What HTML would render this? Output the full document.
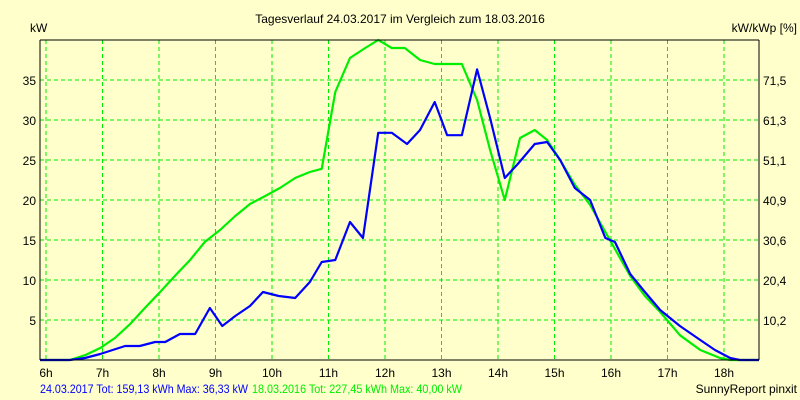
<!DOCTYPE html>
<html><head><meta charset="utf-8"><style>
body{margin:0;background:#ffffcc;}
svg{display:block;font-family:"Liberation Sans",Arial,sans-serif;font-size:12px;}
</style></head><body>
<svg id="chart" width="800" height="400" viewBox="0 0 800 400">
<rect width="800" height="400" fill="#ffffcc"/>
<text x="400" y="23" text-anchor="middle" fill="#000">Tagesverlauf 24.03.2017 im Vergleich zum 18.03.2016</text>
<text x="30" y="32" fill="#000">kW</text>
<text x="797" y="32" text-anchor="end" fill="#000">kW/kWp [%]</text>
<g id="grid"></g>
<g id="series"></g>
<line x1="40" y1="40" x2="40" y2="360" stroke="#000"/>
<line x1="759" y1="40" x2="759" y2="360" stroke="#000"/>
<line x1="40" y1="40" x2="759" y2="40" stroke="#000"/>
<line x1="40" y1="360" x2="759" y2="360" stroke="#000"/>
<g id="labels"></g>
<text x="40" y="393" fill="#0000ff" textLength="208" lengthAdjust="spacingAndGlyphs">24.03.2017 Tot: 159,13 kWh Max: 36,33 kW</text>
<text x="252" y="393" fill="#00ee00" textLength="210" lengthAdjust="spacingAndGlyphs">18.03.2016 Tot: 227,45 kWh Max: 40,00 kW</text>
<text x="797" y="393" text-anchor="end" fill="#000">SunnyReport pinxit</text>
</svg>
<script>
const xTicks=[6,7,8,9,10,11,12,13,14,15,16,17,18];
const yTicks=[5,10,15,20,25,30,35];
const rightTickLabels=["10,2","20,4","30,6","40,9","51,1","61,3","71,5"];
const blueHours=[5.89,6.42,6.69,6.96,7.40,7.66,7.93,8.11,8.37,8.64,8.90,9.12,9.35,9.61,9.84,10.12,10.41,10.67,10.88,11.12,11.38,11.61,11.88,12.12,12.39,12.62,12.88,13.10,13.36,13.63,13.86,14.12,14.35,14.65,14.87,15.10,15.36,15.63,15.90,16.07,16.34,16.60,16.87,17.22,17.58,17.84,18.11,18.28,18.62];
const blueKW=[0,0,0.25,0.75,1.75,1.75,2.25,2.25,3.25,3.25,6.5,4.25,5.5,6.75,8.5,8,7.75,9.75,12.25,12.5,17.25,15.25,28.4,28.4,27,28.75,32.25,28.1,28.1,36.33,30.25,22.75,24.5,27,27.25,25,21.5,20,15.25,14.75,10.75,8.5,6.25,4.25,2.5,1.25,0.25,0,0];
const greenHours=[5.89,6.42,6.69,6.96,7.22,7.49,7.75,8.02,8.28,8.55,8.81,9.08,9.35,9.61,9.88,10.14,10.41,10.67,10.88,11.12,11.38,11.65,11.88,12.12,12.35,12.62,12.88,13.36,13.63,13.86,14.12,14.39,14.65,14.87,15.10,15.36,15.63,15.90,16.34,16.60,16.87,17.22,17.58,17.93,18.11,18.62];
const greenKW=[0,0,0.6,1.5,2.75,4.5,6.5,8.5,10.5,12.5,14.75,16.25,18,19.5,20.5,21.5,22.75,23.5,23.9,33.5,37.75,39,40,39,39,37.5,37,37,32.5,26.25,20,27.75,28.75,27.5,25,21.9,19.4,16,10.5,8,6,3.1,1.25,0.25,0,0];
const NS="http://www.w3.org/2000/svg";
const X=h=>46+(h-6)*56.5;
const Y=v=>360-v*8;
const grid=document.getElementById('grid'),labels=document.getElementById('labels'),series=document.getElementById('series');
function mk(tag,attrs,parent){const e=document.createElementNS(NS,tag);for(const k in attrs)e.setAttribute(k,attrs[k]);parent.appendChild(e);return e;}
xTicks.forEach(h=>{
  const l=mk('line',{x1:X(h),y1:40,x2:X(h),y2:360,stroke:'#00ee00','stroke-dasharray':'4,3'},grid);
  
  
  const t=mk('text',{x:X(h),y:377,'text-anchor':'middle',fill:'#000'},labels);
  
  
  t.textContent=h+'h';
});
yTicks.forEach((v,i)=>{
  const l=mk('line',{x1:40,y1:Y(v),x2:759,y2:Y(v),stroke:'#00ee00','stroke-dasharray':'4,3'},grid);
  
  
  const t=mk('text',{x:36,y:Y(v)+5,'text-anchor':'end',fill:'#000'},labels);
  
  
  t.textContent=v;
  const r=mk('text',{x:763,y:Y(v)+5,fill:'#000'},labels);
  
  
  r.textContent=rightTickLabels[i];
});
function line(hs,vs,color,name){
  const p=mk('polyline',{points:hs.map((h,i)=>Math.min(759,Math.max(40,X(h)))+','+Y(vs[i])).join(' '),fill:'none',stroke:color,'stroke-width':2.2,'stroke-linejoin':'round'},series);
  
  
}
line(greenHours,greenKW,'#00ee00','series-2016-line');
line(blueHours,blueKW,'#0000ff','series-2017-line');
</script>
</body></html>
